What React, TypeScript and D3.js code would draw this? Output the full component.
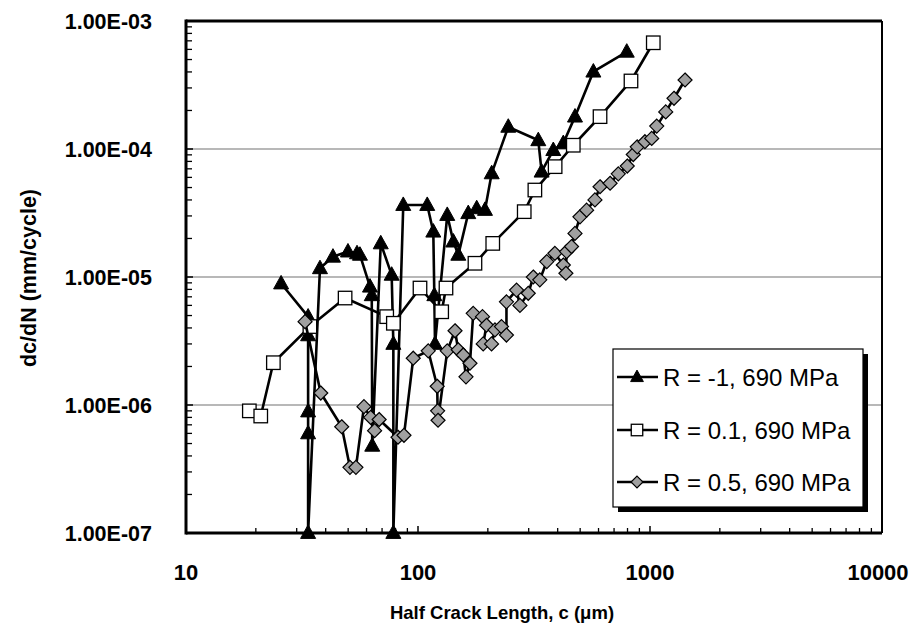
import React from "react";
import * as d3 from "d3";

const xTicks = [10, 100, 1000, 10000];
const yTicks = [1e-3, 1e-4, 1e-5, 1e-6, 1e-7];
const yTickLabels = ["1.00E-03", "1.00E-04", "1.00E-05", "1.00E-06", "1.00E-07"];
const xTickLabels = ["10", "100", "1000", "10000"];

const seriesNames = ["R = -1, 690 MPa", "R = 0.1, 690 MPa", "R = 0.5, 690 MPa"];

const triC = [25.7, 33.6, 33.6, 33.6, 33.6, 33.6, 37.8, 43, 49.9, 54.6, 56.2, 62.1, 63.2, 63.5, 69.1, 77, 78.3, 78.3, 86.4, 109.6, 116.4, 117.6, 118.4, 133.7, 142, 149.2, 164.7, 179.1, 194.4, 207.8, 245, 330, 341, 383, 423, 475, 570, 794];
const triV = [8.9e-6, 4.9e-6, 3.5e-6, 8.9e-7, 6.0e-7, 1.0e-7, 1.17e-5, 1.44e-5, 1.58e-5, 1.53e-5, 1.49e-5, 8.4e-6, 7.2e-6, 4.8e-7, 1.83e-5, 1.04e-5, 3.0e-6, 1.0e-7, 3.65e-5, 3.65e-5, 2.26e-5, 7.2e-6, 3.0e-6, 3.05e-5, 1.89e-5, 1.49e-5, 3.15e-5, 3.44e-5, 3.34e-5, 6.45e-5, 1.49e-4, 1.17e-4, 6.65e-5, 9.8e-5, 1.11e-4, 1.79e-4, 4.02e-4, 5.75e-4];

const sqC = [18.75, 21.0, 23.8, 34.2, 48.5, 73.3, 78.3, 102, 126.5, 132, 176, 210, 287, 319, 390, 467, 609, 828, 1033];
const sqV = [9.0e-7, 8.2e-7, 2.14e-6, 4.1e-6, 6.85e-6, 4.9e-6, 4.35e-6, 8.2e-6, 5.35e-6, 8.2e-6, 1.28e-5, 1.83e-5, 3.24e-5, 4.78e-5, 7.28e-5, 1.07e-4, 1.79e-4, 3.4e-4, 6.76e-4];

const diaC = [32.6, 38.1, 46.9, 50.9, 54, 58.5, 62.5, 65, 68, 82, 87, 95.4, 110.7, 121, 121.5, 122, 133.7, 144.4, 149, 156.7, 161, 167.5, 173, 189.7, 197.4, 191, 207.5, 214.7, 229, 240.6, 240.6, 266, 275, 298.7, 314, 335, 359, 389, 423, 434, 437, 459, 475, 499, 533, 579, 609, 673, 730, 798, 847, 881, 951, 1017, 1069, 1169, 1269, 1416];
const diaV = [4.48e-6, 1.24e-6, 6.76e-7, 3.26e-7, 3.26e-7, 9.7e-7, 8.0e-7, 6.3e-7, 7.7e-7, 5.6e-7, 5.8e-7, 2.32e-6, 2.65e-6, 1.4e-6, 9.0e-7, 7.6e-7, 2.65e-6, 3.8e-6, 2.7e-6, 2.46e-6, 1.66e-6, 2.12e-6, 5.2e-6, 4.9e-6, 4.2e-6, 3.0e-6, 3.0e-6, 3.86e-6, 4.1e-6, 3.52e-6, 6.4e-6, 7.9e-6, 6.0e-6, 7.46e-6, 1.0e-5, 9.5e-6, 1.32e-5, 1.53e-5, 1.24e-5, 1.07e-5, 1.58e-5, 1.73e-5, 2.19e-5, 2.95e-5, 3.33e-5, 4.0e-5, 5.07e-5, 5.4e-5, 6.4e-5, 7.36e-5, 9.05e-5, 1.04e-4, 1.14e-4, 1.21e-4, 1.51e-4, 1.95e-4, 2.49e-4, 3.46e-4];

const W = 920, H = 632;
const L = 186, R = 882, T = 21, B = 533;
const FONT = "Liberation Sans, Arial, sans-serif";

function marker(kind: string, x: number, y: number, key: string | number, s = 1) {
  if (kind === "tri") {
    const h = 13.5 * s, w = 15 * s;
    return <path key={key} d={`M${x},${y - h * 0.6}L${x + w / 2},${y + h * 0.4}L${x - w / 2},${y + h * 0.4}Z`} fill="#000" stroke="#000" strokeWidth={1} />;
  }
  if (kind === "sq") {
    const a = 13.5 * s;
    return <rect key={key} x={x - a / 2} y={y - a / 2} width={a} height={a} fill="#fff" stroke="#000" strokeWidth={1.3} />;
  }
  const r = 7 * s;
  return <path key={key} d={`M${x},${y - r}L${x + r},${y}L${x},${y + r}L${x - r},${y}Z`} fill="#a0a0a0" stroke="#000" strokeWidth={1.2} />;
}

export default function App() {
  const x = d3.scaleLog().domain([10, 10000]).range([L, R]);
  const y = d3.scaleLog().domain([1e-7, 1e-3]).range([B, T]);
  const line = d3.line<[number, number]>().x(d => x(d[0])).y(d => y(d[1]));

  const series = [
    { kind: "tri", pts: triC.map((c, i) => [c, triV[i]] as [number, number]) },
    { kind: "sq", pts: sqC.map((c, i) => [c, sqV[i]] as [number, number]) },
    { kind: "dia", pts: diaC.map((c, i) => [c, diaV[i]] as [number, number]) },
  ];

  const xMinor: number[] = [];
  for (let d = 10; d < 10000; d *= 10) for (let k = 2; k <= 9; k++) xMinor.push(d * k);
  const yMinor: number[] = [];
  for (let d = 1e-7; d < 1e-3 * 0.99; d *= 10) for (let k = 2; k <= 9; k++) yMinor.push(d * k);

  const lgX = 613, lgY = 349, lgW = 250, lgH = 158;
  const lgRows = [377, 430, 482];

  return (
    <svg width={W} height={H} style={{ position: "absolute", left: 0, top: 0 }} fontFamily={FONT}>
      <rect x={0} y={0} width={W} height={H} fill="#fff" />
      {yTicks.slice(1, 4).map((t, i) => (
        <line key={"g" + i} x1={L} x2={R} y1={y(t)} y2={y(t)} stroke="#a0a0a0" strokeWidth={1.3} />
      ))}
      {xMinor.map((t, i) => (
        <line key={"xm" + i} x1={x(t)} x2={x(t)} y1={B} y2={B - 5} stroke="#000" strokeWidth={1.3} />
      ))}
      {xTicks.map((t, i) => (
        <line key={"xM" + i} x1={x(t)} x2={x(t)} y1={B} y2={B - 7} stroke="#000" strokeWidth={1.5} />
      ))}
      {yMinor.map((t, i) => (
        <line key={"ym" + i} x1={L} x2={L + 6} y1={y(t)} y2={y(t)} stroke="#000" strokeWidth={1.3} />
      ))}
      {yTicks.map((t, i) => (
        <line key={"yM" + i} x1={L} x2={L + 7} y1={y(t)} y2={y(t)} stroke="#000" strokeWidth={1.5} />
      ))}
      <line x1={L} x2={R} y1={T} y2={T} stroke="#000" strokeWidth={3} />
      <line x1={R} x2={R} y1={T} y2={B} stroke="#000" strokeWidth={2} />
      <line x1={L} x2={L} y1={T - 1.5} y2={B + 1.5} stroke="#000" strokeWidth={3} />
      <line x1={L} x2={R} y1={B} y2={B} stroke="#000" strokeWidth={3} />
      {series.map((s, si) => (
        <g key={"s" + si}>
          <path d={line(s.pts) || ""} fill="none" stroke="#000" strokeWidth={2.6} strokeLinejoin="round" />
          {s.pts.map((p, i) => marker(s.kind, x(p[0]), y(p[1]), i))}
        </g>
      ))}
      {yTicks.map((t, i) => (
        <text key={"yl" + i} x={152} y={y(t)} dy="0.35em" textAnchor="end" fontSize={21.5} fontWeight="bold">{yTickLabels[i]}</text>
      ))}
      {xTicks.map((t, i) => (
        <text key={"xl" + i} x={i === 3 ? x(t) - 4 : x(t)} y={580} textAnchor="middle" fontSize={22} fontWeight="bold">{xTickLabels[i]}</text>
      ))}
      <text x={502} y={619} textAnchor="middle" fontSize={18.5} fontWeight="bold">Half Crack Length, c (μm)</text>
      <text transform="translate(36,278) rotate(-90)" textAnchor="middle" fontSize={21.5} fontWeight="bold">dc/dN (mm/cycle)</text>
      <rect x={lgX + 5} y={lgY + 5} width={lgW} height={lgH} fill="#000" />
      <rect x={lgX} y={lgY} width={lgW} height={lgH} fill="#fff" stroke="#000" strokeWidth={1.2} />
      {series.map((s, i) => (
        <g key={"lg" + i}>
          <line x1={lgX + 4} x2={lgX + 45} y1={lgRows[i]} y2={lgRows[i]} stroke="#000" strokeWidth={2.6} />
          {marker(s.kind, lgX + 24, lgRows[i], "m", 0.85)}
          <text x={lgX + 50} y={lgRows[i]} dy="0.36em" fontSize={24}>{seriesNames[i]}</text>
        </g>
      ))}
    </svg>
  );
}
